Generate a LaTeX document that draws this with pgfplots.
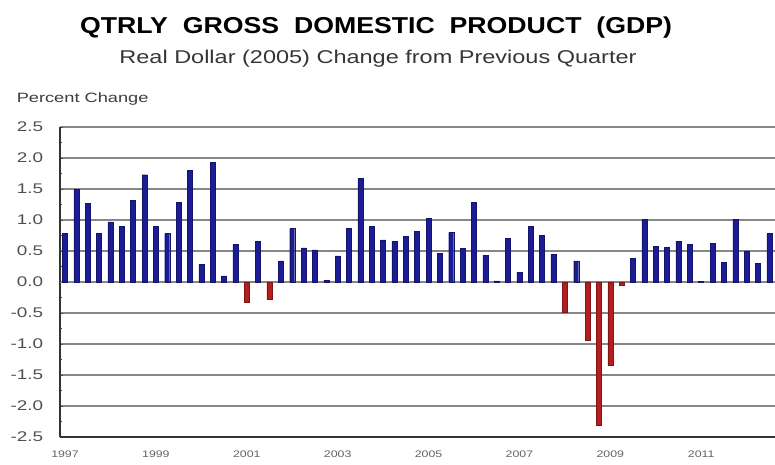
\documentclass[border=0pt]{standalone}
\usepackage{pgfplots}
\pgfplotsset{compat=1.18}
\usepackage{fontspec}
\setmainfont{Liberation Sans}
\definecolor{barblue}{RGB}{28,28,150}
\definecolor{barred}{RGB}{180,30,30}
\definecolor{gridgray}{RGB}{135,135,135}
\definecolor{txtgray}{RGB}{60,60,60}
\begin{document}
\begin{tikzpicture}
\begin{axis}[
  scale only axis,
  width=715pt, height=310pt,
  xmin=0.56, xmax=63.5,
  ymin=-2.5, ymax=2.5,
  ytick={-2.5,-2,...,2.5},
  yticklabel style={/pgf/number format/fixed, /pgf/number format/fixed zerofill, /pgf/number format/precision=1},
  /pgf/number format/assume math mode=true,
  minor y tick num=1,
  xtick={1,9,17,25,33,41,49,57},
  xticklabels={1997,1999,2001,2003,2005,2007,2009,2011},
  x tick label style={font=\fontsize{9.5}{10}\selectfont, text=txtgray!80, xscale=1.3, yshift=-7pt},
  y tick label style={font=\fontsize{14}{15}\selectfont, text=txtgray!90, xscale=1.35, xshift=-9pt},
  axis x line*=bottom, axis y line*=left,
  axis line style={black!80, line width=1.5pt},
  ymajorgrids, grid style={gridgray, line width=1.4pt},
  major tick length=3pt, minor tick length=2pt,
  tick style={black!70, line width=0.6pt},
  xtick style={draw=none},
  ybar, bar width=5pt, bar shift=0pt,
  clip=false,
]
\draw[gridgray, line width=0.6pt] (axis cs:0.56,0) -- (axis cs:63.5,0);
\addplot[fill=barblue, draw=barblue!70!black, line width=0.4pt] coordinates {
(1,0.78) (2,1.49) (3,1.27) (4,0.78) (5,0.97) (6,0.90) (7,1.32) (8,1.73)
(9,0.90) (10,0.78) (11,1.28) (12,1.80) (13,0.28) (14,1.93) (15,0.10) (16,0.61)
(18,0.65) (20,0.34) (21,0.86) (22,0.55) (23,0.52) (24,0.03)
(25,0.42) (26,0.86) (27,1.67) (28,0.90) (29,0.68) (30,0.66) (31,0.74) (32,0.82)
(33,1.03) (34,0.46) (35,0.80) (36,0.54) (37,1.28) (38,0.43) (39,0.02) (40,0.70)
(41,0.16) (42,0.90) (43,0.75) (44,0.45) (46,0.34)
(51,0.38) (52,1.01) (53,0.58) (54,0.56) (55,0.66) (56,0.61)
(57,0.01) (58,0.62) (59,0.32) (60,1.01) (61,0.50) (62,0.30) (63,0.78)
};
\addplot[fill=barred, draw=barred!70!black, line width=0.4pt] coordinates {
(17,-0.33) (19,-0.28) (45,-0.48) (47,-0.94) (48,-2.31) (49,-1.35) (50,-0.05)
};
\end{axis}
\pgfresetboundingbox
\path[use as bounding box] ([xshift=-60pt,yshift=-28pt]current axis.south west) rectangle ([yshift=127pt]current axis.north east);
\node[font=\bfseries\fontsize{23}{25}\selectfont, xscale=1.16, anchor=center] at ([xshift=316pt,yshift=99pt]current axis.north west) {QTRLY\ \ GROSS\ \ DOMESTIC\ \ PRODUCT\ \ (GDP)};
\node[font=\fontsize{18.5}{20}\selectfont, xscale=1.27, text=txtgray!90!black, anchor=center] at ([xshift=318pt,yshift=68pt]current axis.north west) {Real Dollar (2005) Change from Previous Quarter};
\node[font=\fontsize{13.5}{15}\selectfont, xscale=1.35, text=txtgray, anchor=west] at ([xshift=-48pt,yshift=28pt]current axis.north west) {Percent Change};
\end{tikzpicture}
\end{document}
